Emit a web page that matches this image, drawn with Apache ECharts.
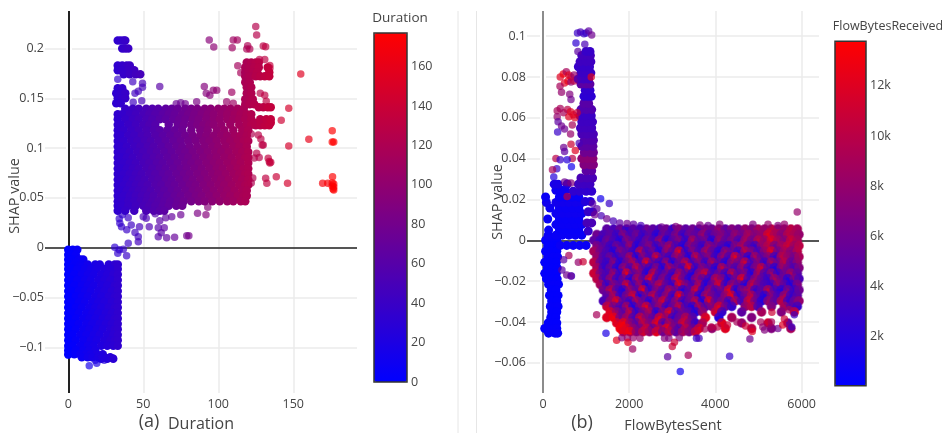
<!DOCTYPE html>
<html><head><meta charset="utf-8">
<script src="https://cdn.jsdelivr.net/npm/echarts@6/dist/echarts.min.js"></script>
<style>html,body{margin:0;padding:0;background:#fff}#c{width:942px;height:433px}</style>
</head><body><div id="c"></div>
<script>
const _ = null;
// Panel (a): rows of the dense area as [SHAP value, Duration readings]
const aBlockRows = [
[.1395,[38,43,47,52,56,60,65,69,73,78,82,86,91,95,100,104,108,113,117]],
[.134,[33,36,41,45,50,54,58,63,67,71,76,80,84,89,93,97,102,106,111,115,119,122]],
[.129,[33,38,43,47,52,56,61,65,70,74,78,83,87,92,97,101,106,110,114,118,122]],
[.1235,[33,35,40,45,50,54,58,67,73,77,82,86,90,94,97,102,108,114,119,122]],
[.118,[33,37,42,47,52,57,61,66,71,76,82,88,93,99,104,110,116,120]],
[.1125,[33,35,40,44,49,53,58,63,68,73,78,83,88,92,97,102,106,111,115,119]],
[.107,[33,37,42,46,51,55,60,65,70,75,80,85,90,94,99,104,108,113,117,120]],
[.1015,[33,35,39,44,48,53,57,62,67,72,76,81,86,91,96,100,105,110,114,119]],
[.096,[33,37,41,46,50,55,59,64,69,74,78,83,88,93,98,102,107,112,116,120]],
[.0905,[33,35,39,43,48,52,57,61,66,71,76,80,85,90,95,99,104,109,114,118,120]],
[.085,[33,37,41,45,50,54,59,63,68,73,78,82,87,92,97,101,106,111,115,120]],
[.0795,[33,35,39,43,47,52,56,61,65,70,75,79,84,89,94,99,103,108,113,117,120]],
[.074,[33,37,41,45,49,54,58,63,67,72,77,81,86,91,96,100,105,110,114,118,120]],
[.0685,[33,35,39,43,47,51,56,60,65,69,74,79,83,88,93,98,102,107,112,116,120]],
[.063,[33,37,41,45,49,53,58,62,67,71,76,81,85,90,95,100,104,109,114,118,120]],
[.0575,[33,35,39,43,47,51,55,60,64,69,73,78,83,87,92,97,102,106,111,116,119]],
[.052,[33,37,41,45,49,53,57,62,66,71,75,80,85,89,94,99,104,108,113,117,119]],
[.0465,[33,36,40,44,48,52,56,60,64,68,73,77,82,87,91,96,101,106,110,115,118]],
[.042,[33,36,40,45,50,54,58,63,67,72,76]],
[.037,[33,38,44,52,57,61,64]],
[.186,[119,122,125,127]],[.181,[118,121,124,127,133]],[.176,[118,120,123,126,134]],[.172,[118,121,125,128,131,134]],
[.166,[118,121]],[.161,[119,122]],[.155,[119,122]],[.149,[118,121,123]],[.144,[118,121,124]],
[.141,[127,130,133,135]],[.1255,[124,127,130,133,135]],[.123,[125,128,131,134]],[.129,[128,132,135]],
[.16,[33,36]],[.155,[32,35,38]],[.15,[33,36,38]],[.145,[32,35]],
[.183,[33,36,39,41]],[.178,[33,36,40,44]],[.174,[37,41,45,48]],
[.208,[33,35,37,38]],[.2,[36,38,40]]
];
const aLowerRows = [
[-.002,[0,3,6]],[-.007,[0,2,5]],[-.012,[0,3,7,10]],[-.017,[0,4,8,13,18,21,27,31,33]],
[-.0215,[0,2,6,11,15,19,24,28,33]],[-.027,[0,4,9,13,17,22,26,30,33]],[-.0325,[0,2,6,11,15,20,24,28,33]],
[-.038,[0,4,9,13,17,22,26,31,33]],[-.0435,[0,2,7,11,15,20,24,29,33]],[-.049,[0,5,9,13,18,22,27,31,33]],
[-.0545,[0,2,7,11,16,20,24,29,33]],[-.06,[0,5,9,14,18,22,27,31,33]],[-.0655,[0,3,7,12,16,20,25,29,33]],
[-.071,[0,5,10,14,18,23,27,31,33]],[-.0765,[0,3,7,12,16,21,25,29,33]],[-.082,[0,5,10,14,19,23,28,31,33]],
[-.0875,[0,3,8,12,17,21,26,30,33]],[-.093,[0,5,10,15,19,24,28,31,33]],[-.0985,[0,3,8,13,17,22,26,30,33]],
[-.103,[0,5,10,14,18]],[-.107,[0,4,8,12,15,19,23]],[-.11,[9,13,16,20,24,28]],
[-.1115,[22,26,30]]
];
const aScatter = [
[125,.222],[125.6,.2135],[94,.2085],[97,.2015],[110,.2085],[112.7,.2085],[109.3,.2008],[119.6,.2028],[119,.1995],[121,.1995],[130,.2025],[131.6,.2018],
[113,.1827],[115,.1757],[127.5,.189],[131,.189],[155,.1744],[147,.14],[142,.1278],[160.4,.1088],[176,.1175],[176,.106],[177,.106],[147,.102],
[126.7,.113],[128.4,.109],[129.3,.103],[130,.103],[125.6,.0947],[127.3,.0904],[133.3,.0897],[134,.0865],[134.4,.085],[135,.0857],[138.7,.0713],[131.6,.0696],[132.4,.0646],
[146.2,.0646],[169.6,.0646],[176.2,.0713],[176,.065],[177,.064],[176,.062],[177,.061],[176.5,.059],[177,.058],[173,.0646],[134.4,.183],[134.4,.18],
[33,.169],[43,.1665],[49.5,.165],[44.5,.155],[49.5,.161],[46.7,.157],[61,.1617],[43.3,.146],[49,.1475],
[90.7,.1617],[94.4,.153],[96.7,.158],[99,.158],[109,.156],[85.6,.1466],[105.6,.1466],[110,.145],[92,.155],[72,.1445],[75,.1455],[78,.1445],
[128,.155],[131,.153],[132,.147],[122,.114],[124,.09],[123,.07],[122,.065],
[46.7,.006],[40,.0044],[46.7,.011],[44.5,.0153],[42,.0227],[35.5,.021],[34.4,.0245],[52,.0295],[50,.031],[47.5,.021],[54,.021],[60,.011],[65.6,.01],[70.9,.0104],[79,.012],[80.4,.012],
[62,.015],[60,.02],[64,.02],[61,.027],[65,.03],[58,.034],[69,.031],[75,.033],[86.2,.0345],[91.8,.033],[93,.0405],[40,.03],[36,.033],[39,.018],[34,.029],
[31,.0003],[33,-.0057],[36.7,-.0017],[38.9,-.008],[34,-.002],
[8,-.011],[5,-.014],[14,-.1185],[19,-.116],[0,-.108],[30,-.111],[24,-.113],[18,-.113]
];
// Panel (b): two columns of FlowBytesSent readings for the dense area, and per row [SHAP value, FlowBytesReceived in k]
const bColsA = [1180,1330,1480,1640,1790,1940,2090,2250,2400,2550,2700,2860,3010,3160,3310,3470,3620,3770,3920,4080,4230,4380,4530,4690,4840,4990,5140,5300,5450,5600,5750,5900];
const bColsB = [1250,1400,1560,1710,1860,2020,2170,2320,2470,2630,2780,2930,3080,3240,3390,3540,3700,3850,4000,4150,4310,4460,4610,4760,4920,5070,5220,5370,5530,5680,5830,5940];
const bBlockRows = [
[.0055,bColsA,[_,_,5,4,6,3,5,4,6,5,4,6,3,7,5,6,4,7,6,8,5,7,6,8,7,9,8,10,9,8,10,9]],
[.0028,bColsB,[6,4,5,3,7,4,6,3,5,2,6,4,7,3,6,5,8,4,6,7,5,8,6,9,7,8,12,9,7,10,9,8]],
[0,bColsA,[5,3,6,4,2,7,5,3,6,4,8,2,5,7,3,9,5,6,2,8,5,7,4,9,6,10,8,12,9,7,11,9]],
[-.0027,bColsB,[7,5,3,6,4,8,2,5,7,3,6,9,4,2,7,5,3,8,6,4,2,7,9,5,3,8,10,6,9,11,8,10]],
[-.0054,bColsA,[9,6,4,2,7,5,3,10,4,6,2,8,5,12,3,7,4,9,5,2,8,6,3,10,7,4,8,12,6,9,7,10]],
[-.0081,bColsB,[8,4,6,3,5,9,2,7,4,11,5,3,8,6,2,10,5,7,3,8,4,12,6,2,9,5,7,3,10,8,6,9]],
[-.0108,bColsA,[10,5,3,7,2,6,9,4,12,5,3,8,2,6,10,4,7,3,9,5,2,8,6,11,4,7,3,9,6,10,5,8]],
[-.0135,bColsB,[9,3,6,2,8,4,10,5,3,7,2,9,6,4,12,3,7,5,2,10,6,4,8,3,7,11,5,2,8,6,4,7]],
[-.0162,bColsA,[11,6,4,8,3,12,5,7,2,10,4,6,3,9,5,2,8,11,4,6,3,10,5,7,2,9,4,8,3,6,9,5]],
[-.0189,bColsB,[10,4,8,3,6,2,9,5,12,4,7,3,11,6,2,8,5,3,10,7,2,6,12,4,8,5,3,9,6,2,7,4]],
[-.0216,bColsA,[_,9,3,7,5,11,4,8,2,6,10,5,3,12,7,4,9,2,6,11,3,8,5,2,10,6,4,3,8,5,2,7]],
[-.0243,bColsB,[_,6,10,4,2,8,5,12,3,7,4,9,6,2,5,11,3,8,4,6,12,2,7,9,3,5,10,4,2,7,3,6]],
[-.027,bColsA,[_,_,5,9,3,7,11,2,6,10,4,8,3,13,5,7,2,9,6,4,8,12,3,6,10,5,2,7,4,9,3,5]],
[-.0297,bColsB,[_,4,8,12,5,3,9,6,2,7,11,4,8,3,6,10,2,12,5,7,3,9,4,11,6,2,8,5,10,3,6,8]],
[-.0324,bColsA,[_,_,11,6,4,9,2,7,12,5,8,3,6,10,4,2,9,5,7,12,6,3,_,8,10,4,_,7,_,9,5,3]],
[-.0351,bColsB,[_,_,12,8,5,10,3,6,9,2,7,12,4,6,5,2,8,_,11,3,_,_,5,_,_,9,_,_,7,_,12,_]],
[-.0378,bColsA,[_,_,12,13,6,9,4,11,7,5,12,8,3,6,10,5,_,12,_,2,_,9,_,_,7,_,_,_,_,_,_,_]],
[-.0405,bColsB,[_,_,_,12,13,8,5,10,7,12,4,9,6,11,7,3,9,_,_,12,_,_,8,_,_,_,11,_,_,6,_,_]],
[-.0432,bColsA,[_,_,_,_,13,12,8,6,11,5,9,13,7,4,10,6,12,_,8,_,12,_,_,_,10,_,_,7,_,_,9,_]],
[-.0448,bColsB,[_,_,_,_,12,13,7,11,8,12,6,10,5,9,7,11,_,_,_,_,_,_,_,_,_,_,_,_,_,_,_,_]]
];
// Blue column near zero and the purple tower: [SHAP value, readings, colour in k]
const bColumnRows = [
[0,[60,190,320],.3],[-.0027,[110,240,340],.2],[-.0054,[60,190,320],.2],[-.0081,[110,240,340],.3],[-.0108,[40,170,310],.2],
[-.0135,[100,220,330],.2],[-.0162,[40,170,310],.2],[-.0189,[80,220,330],.2],[-.0216,[130,260,360],.3],[-.0243,[190,300],.2],
[-.0270,[150,280,350],.2],[-.0297,[200,320],.2],[-.0324,[170,290,350],.3],[-.0351,[200,320],.2],[-.0378,[180,300],.2],
[-.0405,[120,240,320],.2],[-.0432,[40,120,260,320],.3],[-.0455,[130,280,340],.4],
[.0025,[120,300,450,600,750,900],.5],[.005,[130,380,530,680,830],.4],[.0077,[300,450,600,750,900],.6],[.0104,[110,380,530,680,830],.5],
[.0131,[300,450,600,750,900],.8],[.0158,[160,380,530,680,830],.7],[.0185,[80,300,450,600,750,900],1],[.0212,[60,380,530,680,830],.6],
[-.0025,[400,550,700,850,1000],.6],[.0245,[300,420,520],.8],[.0275,[260,350,560],1.4],
[.0045,[1050],3],[.0085,[1020,1130],4],[.014,[1050,1150],3],[.019,[980,1100],2],[.024,[700,850,1000,1130],2.6],[.0275,[820,950,1090],3.4],[.0305,[880,1020,1150],4],
[.034,[1000,1130],5],[.037,[950,1090,1170],7],[.04,[900,1030,1160],7.5],[.043,[960,1100,1170],6],[.046,[900,1020,1160],5],[.049,[960,1090,1170],4.5],
[.052,[900,1030,1170],4],[.055,[870,1000,1130],3.6],[.058,[900,1030,1150],3.4],[.061,[860,990,1120],3.2],[.064,[880,1010,1130],4.4],[.067,[950,1060],4.8],
[.0705,[950,1040,1120],2.4],[.0735,[980,1090],2.6],
[.0765,[880,1000,1090],5],[.079,[820,940,1060],3.5],[.082,[880,1000,1110],3.2],[.085,[820,950,1080],3],[.0875,[860,1000,1110],3.4],[.0905,[900,1030,1100],3.6],[.0925,[1000,1090],3]
];
const bScatter = [
[800,.1015,3],[870,.102,4],[950,.1012,3],[1000,.1015,3],[1060,.1025,5],[1130,.1005,6],[765,.0966,2.5],[970,.096,4],[810,.0925,5],
[400,.08,12],[470,.0815,13],[540,.0825,9],[600,.081,12],[650,.08,11],[720,.081,8],[500,.077,12],[580,.078,12.5],[650,.0775,8],[720,.078,10],[800,.079,4],[1120,.08,12],
[395,.0755,9],[430,.0725,8],[620,.0715,7],[650,.069,6],[330,.0635,9],[400,.0645,9],[480,.0625,9],[330,.0605,8],[570,.064,10],[640,.063,12],[700,.0615,12],[790,.0625,11],[600,.0605,12],[740,.06,12],
[350,.058,5],[430,.056,6],[500,.0545,6],[340,.053,3],[640,.052,8],[680,.0565,9],[650,.047,11],[480,.0455,6],[500,.0435,5],[750,.044,12],[840,.0475,4],[680,.04,10],[300,.04,10],[400,.0395,3],[560,.0395,2],[660,.036,1],[320,.035,3],[220,.0345,9],[250,.031,2],
[500,.0285,6],[570,.028,5],[650,.028,7],[560,.0215,10],[1337,.0204,1],[1538,.018,3],[1461,-.0455,1.5],[1244,-.0365,9],
[1708,-.049,12],[1830,-.0478,7],[1960,-.0478,8],[1971,-.05,12],[2090,-.0478,8],[2250,-.048,8],[2080,-.0532,8.5],[2820,-.048,7],[2920,-.048,7],[3160,-.0478,7],[3050,-.05,11],[3000,-.052,11],
[2891,-.0571,5],[3370,-.0563,9],[3185,-.0643,1],[3560,-.048,3],[3620,-.048,4],[4329,-.0568,3],[4855,-.0447,12],[4800,-.0483,6],[4700,-.042,11],[4500,-.04,9],[4280,-.0415,11],[4050,-.0425,10],[3900,-.0425,10],[3750,-.0435,9],
[5050,-.04,9],[5100,-.0425,8],[5140,-.044,7],[5300,-.04,9],[5450,-.0432,6],[5600,-.0385,11],[5560,-.0415,12],[5770,-.0425,3],[5310,-.0353,11],[5710,-.034,9],[5830,-.0365,3],[5898,.0139,8],
[3640,.0075,7],[3830,.0072,6],[4100,.0078,7],[4870,.0078,7],[5220,.0078,8],[5450,.0072,7],[5600,.0078,8],[2750,.0065,6],[3080,.0068,7],
[1150,.018,5],[1250,.0155,5],[1350,.012,4],[1480,.0105,6],[1630,.0095,4],[1200,.0125,6],[1780,.0085,5],[1950,.0082,6],[2100,.0078,5],[2270,.0072,4],
[600,-.0075,9],[480,-.0095,5],[550,-.017,6],[660,-.0175,2],[650,-.0175,6],[820,-.0108,8],[930,-.0105,11],[440,-.0145,5]
];

const aDense = [];
aBlockRows.concat(aLowerRows).forEach(r => r[1].forEach(x => aDense.push([x, r[0]])));
const bColumn = [];
bColumnRows.forEach(r => r[1].forEach(x => bColumn.push([x, r[0], r[2] * 1000])));
const bBlock = [];
bBlockRows.forEach(r => r[2].forEach((c, i) => { if (c !== null) bBlock.push([r[1][i], r[0], c * 1000]); }));
const bSparse = bScatter.map(p => [p[0], p[1], p[2] * 1000]);

const FONT = '"Open Sans"', INK = '#444', GRID = '#ebebeb';
const colors = ['#0000ff', '#ff0000'];
const minus = v => String(+(+v).toFixed(3)).replace('-', '\u2212');
const kfmt = v => (v / 1000) + 'k';
function tickLabels(margin, formatter) {
  return { color: INK, fontFamily: FONT, fontSize: 12.5, margin, showMinLabel: false, showMaxLabel: false, formatter };
}
function axisBase(extra) {
  return Object.assign({
    type: 'value',
    axisLine: { show: false, onZero: false }, axisTick: { show: false },
    splitLine: { show: true, showMinLine: false, showMaxLine: false, lineStyle: { color: GRID, width: 1.5 } },
    nameLocation: 'middle', nameMoveOverlap: false
  }, extra);
}
function nameStyle(size, padding) {
  return { color: INK, fontFamily: FONT, fontSize: size, padding: padding || 0 };
}
function barAxes(gridIndex, min, max, split, fmt) {
  return {
    x: { type: 'value', gridIndex, show: false, min: 0, max: 1 },
    y: { type: 'value', gridIndex, position: 'right', min, max, splitNumber: split,
      axisLine: { show: false, onZero: false }, axisTick: { show: false }, splitLine: { show: false },
      axisLabel: { color: INK, fontFamily: FONT, fontSize: 12.5, margin: 4, showMinLabel: min === 0, showMaxLabel: false, formatter: fmt } }
  };
}
const bar1 = barAxes(2, 0, 177, 9, v => String(v));
const bar2 = barAxes(3, 40, 13780, 7, kfmt);
function zeroLines(xColor, xWidth) {
  return { silent: true, symbol: 'none', animation: false, z: 1, label: { show: false }, emphasis: { disabled: true },
    data: [
      { xAxis: 0, lineStyle: { color: '#fff', width: 6, type: 'solid' } },
      { xAxis: 0, lineStyle: { color: xColor, width: xWidth, type: 'solid' } },
      { yAxis: 0, lineStyle: { color: '#222', width: 1.6, type: 'solid' } }
    ] };
}
function label(text, x, y, size) {
  return { type: 'text', x, y, silent: true,
    style: { text, fill: INK, font: size + 'px ' + FONT, textAlign: 'center', textVerticalAlign: 'middle' } };
}
const chart = echarts.init(document.getElementById('c'), null, { renderer: 'canvas' });
chart.setOption({
  animation: false, backgroundColor: '#fff',
  grid: [
    { left: 45, top: 11, width: 312, height: 382, outerBoundsMode: 'none' },
    { left: 527, top: 11, width: 292, height: 382, outerBoundsMode: 'none' },
    { left: 374, top: 33, width: 33, height: 349, outerBoundsMode: 'none', show: true, z: 6, backgroundColor: 'transparent', borderColor: '#333', borderWidth: 1.5 },
    { left: 835, top: 41.3, width: 31, height: 344.5, outerBoundsMode: 'none', show: true, z: 6, backgroundColor: 'transparent', borderColor: '#333', borderWidth: 1.5 }
  ],
  xAxis: [
    axisBase({ gridIndex: 0, min: -15.5, max: 192.5, splitNumber: 4, name: 'Duration', nameGap: 23, axisLabel: tickLabels(5, minus), nameTextStyle: nameStyle(16) }),
    axisBase({ gridIndex: 1, min: -371, max: 6403, splitNumber: 3, name: 'FlowBytesSent', nameGap: 26, axisLabel: tickLabels(5, v => String(v)), nameTextStyle: nameStyle(14.4) }),
    bar1.x, bar2.x
  ],
  yAxis: [
    axisBase({ gridIndex: 0, min: -.1459, max: .2376, splitNumber: 8, name: 'SHAP value', nameGap: 23, axisLabel: tickLabels(1, minus), nameTextStyle: nameStyle(14.4, [0, 0, 0, 12]) }),
    axisBase({ gridIndex: 1, min: -.0748, max: .1123, splitNumber: 9, name: 'SHAP value', nameGap: 22, axisLabel: tickLabels(1, minus), nameTextStyle: nameStyle(14.4) }),
    bar1.y, bar2.y
  ],
  visualMap: [
    { type: 'continuous', seriesIndex: [1, 2], dimension: 0, min: 0, max: 177, inRange: { color: colors }, show: true, calculable: false, hoverLink: false, left: 374, top: 33, itemWidth: 33, itemHeight: 349, padding: 0, z: 3 },
    { type: 'continuous', seriesIndex: [4, 5, 6, 7], dimension: 2, min: 40, max: 13780, inRange: { color: colors }, show: true, calculable: false, hoverLink: false, left: 835, top: 41.3, itemWidth: 31, itemHeight: 344.5, padding: 0, z: 3 }
  ],
  series: [
    { type: 'scatter', xAxisIndex: 0, yAxisIndex: 0, data: [], z: 1, markLine: zeroLines('#222', 2) },
    { type: 'scatter', name: 'Duration dense', xAxisIndex: 0, yAxisIndex: 0, data: aDense, symbolSize: 8.5, z: 2, itemStyle: { opacity: 1 } },
    { type: 'scatter', name: 'Duration', xAxisIndex: 0, yAxisIndex: 0, data: aScatter, symbolSize: 7.5, z: 3, itemStyle: { opacity: .68 } },
    { type: 'scatter', xAxisIndex: 1, yAxisIndex: 1, data: [], z: 1, markLine: zeroLines('#666', 1.5) },
    { type: 'scatter', name: 'FlowBytesSent column', xAxisIndex: 1, yAxisIndex: 1, data: bColumn, symbolSize: 9, z: 2, itemStyle: { opacity: 1 } },
    { type: 'scatter', name: 'FlowBytesSent base', xAxisIndex: 1, yAxisIndex: 1, data: bBlock, symbolSize: 8.5, z: 2, itemStyle: { opacity: 1 } },
    { type: 'scatter', name: 'FlowBytesSent dense', xAxisIndex: 1, yAxisIndex: 1, data: bBlock, symbolSize: 10, z: 2, itemStyle: { opacity: .55 } },
    { type: 'scatter', name: 'FlowBytesSent', xAxisIndex: 1, yAxisIndex: 1, data: bSparse, symbolSize: 7.5, z: 3, itemStyle: { opacity: .7 } }
  ],
  graphic: [
    { type: 'line', silent: true, shape: { x1: 458, y1: 11, x2: 458, y2: 433 }, style: { stroke: '#e6e6e6', lineWidth: 1 } },
    { type: 'line', silent: true, shape: { x1: 476.5, y1: 11, x2: 476.5, y2: 433 }, style: { stroke: '#e6e6e6', lineWidth: 1 } },
    label('Duration', 400, 18, 13.5),
    label('FlowBytesReceived', 888, 26, 12.5),
    label('(a)', 149, 422, 18),
    label('(b)', 582, 423, 18)
  ]
});
</script></body></html>
